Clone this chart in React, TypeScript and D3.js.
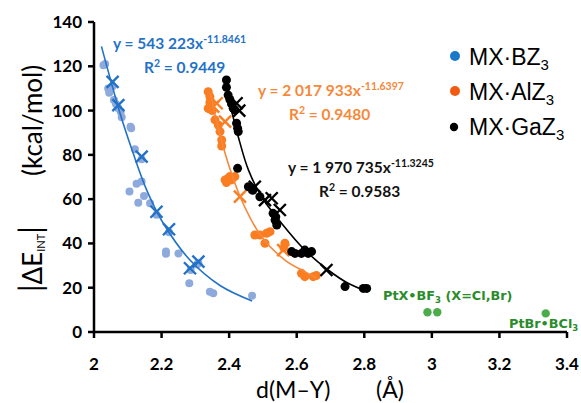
import React from "react";
import * as d3 from "d3";

const W = 581, H = 403;

// Ticks
const xTicks = [2, 2.2, 2.4, 2.6, 2.8, 3, 3.2, 3.4];
const yTicks = [0, 20, 40, 60, 80, 100, 120, 140];

// MX·BZ3 scatter [d, |ΔE|]
const bPts: [number, number][] = [
  [2.028, 120.5], [2.033, 121], [2.042, 110], [2.045, 108], [2.059, 104.8], [2.065, 103],
  [2.079, 99.5], [2.082, 97], [2.108, 92.7], [2.11, 92], [2.121, 82.5], [2.126, 67],
  [2.141, 68], [2.105, 63.4], [2.131, 58.4], [2.148, 61.4], [2.166, 58.1], [2.213, 36.3],
  [2.213, 35.3], [2.25, 35.5], [2.282, 22], [2.343, 18.2], [2.353, 17.5], [2.468, 16.4],
  [2.055, 111], [2.072, 101], [2.141, 78], [2.185, 53], [2.222, 45], [2.309, 31],
  [2.305, 30.5], [2.286, 28],
];
const bX: [number, number][] = [
  [2.055, 113], [2.072, 102.5], [2.141, 79.2], [2.185, 54.3], [2.222, 46.4], [2.284, 28.8], [2.309, 31.8],
];
const bTrend: [number, number][] = [
  [2.022, 129], [2.047, 115], [2.077, 98.8], [2.116, 80.7], [2.156, 64.1], [2.205, 49.1],
  [2.284, 32.5], [2.373, 21], [2.468, 14],
];

// MX·AlZ3
const aPts: [number, number][] = [
  [2.338, 108.5], [2.343, 106.3], [2.345, 104], [2.338, 101], [2.343, 103.7], [2.35, 100],
  [2.358, 95.8], [2.368, 93.5], [2.373, 90.5], [2.378, 86.7], [2.378, 84], [2.388, 68.7],
  [2.397, 69.4], [2.407, 68.7], [2.402, 70.2], [2.417, 70.2], [2.392, 67.5], [2.476, 43.8],
  [2.491, 43.8], [2.511, 44.6], [2.521, 45.3], [2.506, 40.1], [2.565, 40.1], [2.562, 38],
  [2.614, 26.5], [2.624, 25], [2.649, 25], [2.658, 25.5],
];
const aX: [number, number][] = [
  [2.353, 101.8], [2.363, 103.3], [2.388, 95], [2.432, 61.1], [2.56, 37],
];
const aTrend: [number, number][] = [
  [2.344, 108], [2.368, 92], [2.397, 76.2], [2.437, 59.5], [2.496, 43], [2.565, 32.5],
  [2.624, 27.2], [2.659, 24.3],
];

// MX·GaZ3
const gPts: [number, number][] = [
  [2.392, 113.8], [2.392, 110.5], [2.397, 107], [2.402, 105], [2.407, 103], [2.412, 101],
  [2.417, 100.3], [2.422, 94.3], [2.427, 90.5], [2.425, 92], [2.425, 73.9], [2.457, 65.6],
  [2.491, 61.1], [2.53, 53.6], [2.536, 50.6], [2.541, 48.3], [2.538, 52], [2.585, 36.3],
  [2.595, 35.5], [2.614, 35.5], [2.624, 37], [2.634, 35.5], [2.644, 36.3], [2.743, 20.5],
  [2.797, 19.7], [2.807, 19.7], [2.47, 64],
];
const gX: [number, number][] = [
  [2.422, 103.3], [2.43, 100], [2.476, 65.6], [2.506, 59.6], [2.526, 60.4], [2.55, 55.1], [2.688, 28],
];
const gTrend: [number, number][] = [
  [2.392, 109.3], [2.427, 88.2], [2.457, 73.2], [2.496, 61.1], [2.555, 49.1], [2.624, 37],
  [2.693, 28], [2.752, 22], [2.811, 18.2],
];

// Pt adducts
const ptPts: [number, number][] = [[2.987, 8.9], [3.016, 8.9], [3.337, 8.4]];

const x = d3.scaleLinear().domain([2, 3.4]).range([94, 567]);
const y = d3.scaleLinear().domain([0, 140]).range([332, 22]);
const line = d3.line<[number, number]>().x(d => x(d[0])).y(d => y(d[1])).curve(d3.curveCatmullRom.alpha(0.5));

const NUM = "Lato, 'Open Sans', sans-serif";
const ARIAL = "'Liberation Sans', Arial, sans-serif";
const DEJA = "'DejaVu Sans', Verdana, sans-serif";

const C_B_PT = "#8eaadc", C_B = "#2372c8";
const C_A_PT = "#fb7d22", C_A = "#f7883a";
const C_G = "#000";
const C_PT = "#2a8c2a";

function Xmark({ cx, cy, color }: { cx: number; cy: number; color: string }) {
  const s = 6;
  return (
    <g stroke={color} strokeWidth={2.4}>
      <line x1={cx - s} y1={cy - s} x2={cx + s} y2={cy + s} />
      <line x1={cx - s} y1={cy + s} x2={cx + s} y2={cy - s} />
    </g>
  );
}

function Eq({ x0, y0, a, b, r2, color }: { x0: number; y0: number; a: string; b: string; r2: string; color: string }) {
  return (
    <g fill={color} fontFamily={NUM} fontWeight="bold">
      <text x={x0} y={y0} fontSize={15.5}>
        {`y = ${a}x`}
        <tspan fontSize={10.5} dy={-6}>{b}</tspan>
      </text>
      <text x={x0 + 31} y={y0 + 24} fontSize={15.5}>
        R<tspan fontSize={10.5} dy={-6}>2</tspan><tspan dy={6}>{` = ${r2}`}</tspan>
      </text>
    </g>
  );
}

export default function App() {
  return (
    <svg width={W} height={H} style={{ position: "absolute", left: 0, top: 0, background: "#fff" }}>
      {/* axes */}
      <g stroke="#000" strokeWidth={2.5}>
        <line x1={x(2)} y1={y(0)} x2={x(3.4)} y2={y(0)} />
        <line x1={x(2)} y1={y(0)} x2={x(2)} y2={y(140)} />
        {xTicks.map(t => <line key={"xt" + t} x1={x(t)} x2={x(t)} y1={y(0)} y2={y(0) + 6} />)}
        {yTicks.map(t => <line key={"yt" + t} x1={x(2) - 6} x2={x(2)} y1={y(t)} y2={y(t)} />)}
      </g>
      <g fontFamily={NUM} fontWeight="bold" fontSize={17} fill="#000">
        {xTicks.map(t => (
          <text key={"xl" + t} x={x(t)} y={370} textAnchor="middle">{d3.format("~g")(t)}</text>
        ))}
        {yTicks.map(t => (
          <text key={"yl" + t} x={82} y={y(t) + 6} textAnchor="end">{t}</text>
        ))}
      </g>

      {/* axis titles */}
      <text x={256} y={398} fontFamily={NUM} fontSize={23} fill="#000">d(M–Y)</text>
      <text x={376} y={398} fontFamily={NUM} fontSize={23} fill="#000">(Å)</text>
      <g transform="translate(42,180) rotate(-90)" fontFamily={NUM} fill="#000">
        <text x={-112} y={0} fontSize={26}>
          <tspan fontSize={30}>|</tspan>
          <tspan>ΔE</tspan>
          <tspan fontSize={11} dy={3}>INT</tspan>
          <tspan fontSize={30} dy={-3}>|</tspan>
        </text>
        <text x={4} y={0} fontSize={26}>(kcal/mol)</text>
      </g>

      {/* blue */}
      {bPts.map((p, i) => <circle key={"b" + i} cx={x(p[0])} cy={y(p[1])} r={4} fill={C_B_PT} />)}
      {bX.map((p, i) => <Xmark key={"bx" + i} cx={x(p[0])} cy={y(p[1])} color={C_B} />)}
      <path d={line(bTrend) || ""} fill="none" stroke={C_B} strokeWidth={1.6} />

      {/* orange */}
      {aPts.map((p, i) => <circle key={"a" + i} cx={x(p[0])} cy={y(p[1])} r={4.5} fill={C_A_PT} />)}
      {aX.map((p, i) => <Xmark key={"ax" + i} cx={x(p[0])} cy={y(p[1])} color={C_A_PT} />)}
      <path d={line(aTrend) || ""} fill="none" stroke={C_A} strokeWidth={1.6} />

      {/* black */}
      {gPts.map((p, i) => <circle key={"g" + i} cx={x(p[0])} cy={y(p[1])} r={4.5} fill={C_G} />)}
      {gX.map((p, i) => <Xmark key={"gx" + i} cx={x(p[0])} cy={y(p[1])} color={C_G} />)}
      <path d={line(gTrend) || ""} fill="none" stroke={C_G} strokeWidth={1.6} />

      {/* Pt */}
      {ptPts.map((p, i) => <circle key={"p" + i} cx={x(p[0])} cy={y(p[1])} r={4.2} fill="#4aad4a" />)}
      <g fill={C_PT} fontFamily={DEJA} fontWeight="bold" fontSize={12.8}>
        <text x={383} y={300}>PtX•BF<tspan fontSize={8.5} dy={3}>3</tspan><tspan dy={-3}> (X=Cl,Br)</tspan></text>
        <text x={509} y={328}>PtBr•BCl<tspan fontSize={8.5} dy={3}>3</tspan></text>
      </g>

      {/* equations */}
      <Eq x0={113} y0={49} a="543 223" b="-11.8461" r2="0.9449" color={C_B} />
      <Eq x0={258} y0={96} a="2 017 933" b="-11.6397" r2="0.9480" color={C_A} />
      <Eq x0={288} y0={173} a="1 970 735" b="-11.3245" r2="0.9583" color="#111" />

      {/* legend */}
      <g fontFamily={ARIAL} fontSize={23} fill="#000">
        <circle cx={455} cy={56} r={5} fill="#1a78c8" />
        <text x={469} y={65}>MX·BZ<tspan fontSize={15} dy={5}>3</tspan></text>
        <circle cx={455} cy={91} r={5} fill="#f25a12" />
        <text x={469} y={100}>MX·AlZ<tspan fontSize={15} dy={5}>3</tspan></text>
        <circle cx={454} cy={127} r={4.2} fill="#000" />
        <text x={469} y={135}>MX·GaZ<tspan fontSize={15} dy={5}>3</tspan></text>
      </g>
    </svg>
  );
}
